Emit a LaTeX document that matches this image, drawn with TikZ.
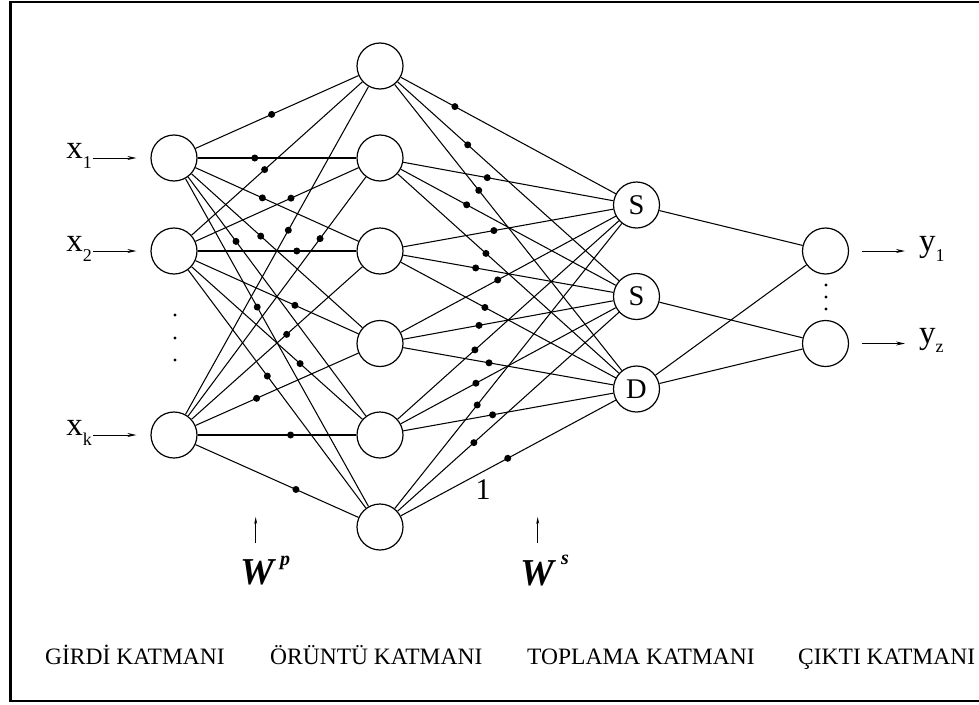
\documentclass[tikz,border=0pt]{standalone}
\usepackage{fontspec}
\setmainfont{Liberation Serif}
\usetikzlibrary{calc,arrows.meta}

\begin{document}
\begin{tikzpicture}[x=1pt,y=-1pt,
  neuron/.style={circle,draw,line width=1.2pt,minimum size=46pt,inner sep=0pt,
    font=\fontsize{28.5}{28.5}\selectfont},
  link/.style={line width=1.05pt},
  wdot/.style={fill,circle,inner sep=0pt,minimum size=7pt},
  sdot/.style={fill,circle,inner sep=0pt,minimum size=3.4pt},
  feed/.style={line width=1pt,-{Stealth[length=9pt,width=4pt]}},
  wtick/.style={line width=0.9pt,-{Stealth[length=7pt,width=3pt]}},
  varlbl/.style={inner sep=0pt,font=\fontsize{33}{33}\selectfont},
  wlbl/.style={inner sep=0pt,anchor=base,font=\bfseries\itshape\fontsize{38}{38}\selectfont},
  wsup/.style={inner sep=0pt,anchor=base west,font=\bfseries\itshape\fontsize{20}{20}\selectfont},
  layername/.style={inner sep=0pt,anchor=base west,font=\fontsize{23.5}{24}\selectfont},
]
\clip (0,0) rectangle (979,704);

% outer frame (open on the right)
\draw[line width=2.4pt] (995,2.2) -- (10.5,2.2) -- (10.5,701.2) -- (995,701.2);

% input layer
\node[neuron] (i1) at (174,158) {};
\node[neuron] (i2) at (174,251) {};
\node[neuron] (ik) at (174,435) {};

% pattern layer
\node[neuron] (p1) at (380,66) {};
\node[neuron] (p2) at (380,158) {};
\node[neuron] (p3) at (380,251) {};
\node[neuron] (p4) at (380,343.5) {};
\node[neuron] (p5) at (380,435) {};
\node[neuron] (p6) at (380,527) {};

% summation layer
\node[neuron] (s1) at (636.5,205) {S};
\node[neuron] (s2) at (636.5,296.5) {S};
\node[neuron] (d)  at (636.5,389) {D};

% output layer
\node[neuron] (o1) at (825.5,251) {};
\node[neuron] (oz) at (825.5,343.5) {};

% input -> pattern connections with weight dots
\foreach \a/\b/\t in {i1/p1/0.474, i1/p2/0.392, i1/p3/0.429, i1/p4/0.421, i1/p5/0.301, i1/p6/0.404,
                      i2/p1/0.440, i2/p2/0.568, i2/p3/0.596, i2/p4/0.587, i2/p5/0.612, i2/p6/0.453,
                      ik/p1/0.555, ik/p2/0.709, ik/p3/0.547, ik/p4/0.401, ik/p5/0.566, ik/p6/0.592}{
  \draw[link] (\a) -- (\b);
  \node[wdot] (w\a\b) at ($(\a)!\t!(\b)$) {};
}

% pattern -> summation connections with weight dots
\foreach \a/\b/\t in {p1/s1/0.292, p1/s2/0.342, p1/d/0.385,
                      p2/s1/0.418, p2/s2/0.338, p2/d/0.413,
                      p3/s1/0.444, p3/s2/0.373, p3/d/0.409,
                      p4/s1/0.459, p4/s2/0.386, p4/d/0.425,
                      p5/s1/0.370, p5/s2/0.374, p5/d/0.439,
                      p6/s1/0.379, p6/s2/0.366, p6/d/0.498}{
  \draw[link] (\a) -- (\b);
  \node[wdot] (v\a\b) at ($(\a)!\t!(\b)$) {};
}

% summation -> output connections
\draw[link] (s1) -- (o1);
\draw[link] (s2) -- (oz);
\draw[link] (d) -- (o1);
\draw[link] (d) -- (oz);

% vertical ellipses
\node[sdot] (e1) at (175,315) {};
\node[sdot] (e2) at (175,338) {};
\node[sdot] (e3) at (175,360) {};
\node[sdot] (f1) at (826,285) {};
\node[sdot] (f2) at (826,297) {};
\node[sdot] (f3) at (826,309) {};

% input labels and arrows
\node[varlbl,anchor=base east] (lx1) at (92,158) {x\raisebox{-10pt}{\fontsize{18}{18}\selectfont 1}};
\node[varlbl,anchor=base east] (lx2) at (92,251) {x\raisebox{-10pt}{\fontsize{18}{18}\selectfont 2}};
\node[varlbl,anchor=base east] (lxk) at (92,435) {x\raisebox{-10pt}{\fontsize{18}{18}\selectfont k}};
\draw[feed,shorten <=1pt,shorten >=14pt] (lx1.base east) -- (i1.west);
\draw[feed,shorten <=1pt,shorten >=14pt] (lx2.base east) -- (i2.west);
\draw[feed,shorten <=1pt,shorten >=14pt] (lxk.base east) -- (ik.west);

% output labels and arrows
\node[varlbl,anchor=base west] (ly1) at (919,251) {y\raisebox{-10pt}{\fontsize{18}{18}\selectfont 1}};
\node[varlbl,anchor=base west] (lyz) at (919,343.5) {y\raisebox{-9pt}{\fontsize{18}{18}\selectfont z}};
\draw[feed,shorten <=13pt,shorten >=14pt] (o1.east) -- (ly1.base west);
\draw[feed,shorten <=13pt,shorten >=14pt] (oz.east) -- (lyz.base west);

% bias label
\node[inner sep=0pt,font=\fontsize{30}{30}\selectfont] (one) at (483,490) {1};

% weight matrix markers
\coordinate (wpa) at (255.7,543);
\coordinate (wpb) at (255.7,517);
\draw[wtick] (wpa) -- (wpb);
\node[wlbl] (wp) at (257,584) {W};
\node[wsup] (wpx) at (280,565) {p};

\coordinate (wsa) at (537.7,543);
\coordinate (wsb) at (537.7,517);
\draw[wtick] (wsa) -- (wsb);
\node[wlbl] (ws) at (537,585) {W};
\node[wsup] (wsx) at (561,564) {s};

% layer names
\node[layername] (n1) at (45,664) {GİRDİ KATMANI};
\node[layername] (n2) at (270,664) {ÖRÜNTÜ KATMANI};
\node[layername] (n3) at (527,664) {TOPLAMA KATMANI};
\node[layername] (n4) at (798,664) {ÇIKTI KATMANI};
\end{tikzpicture}
\end{document}
